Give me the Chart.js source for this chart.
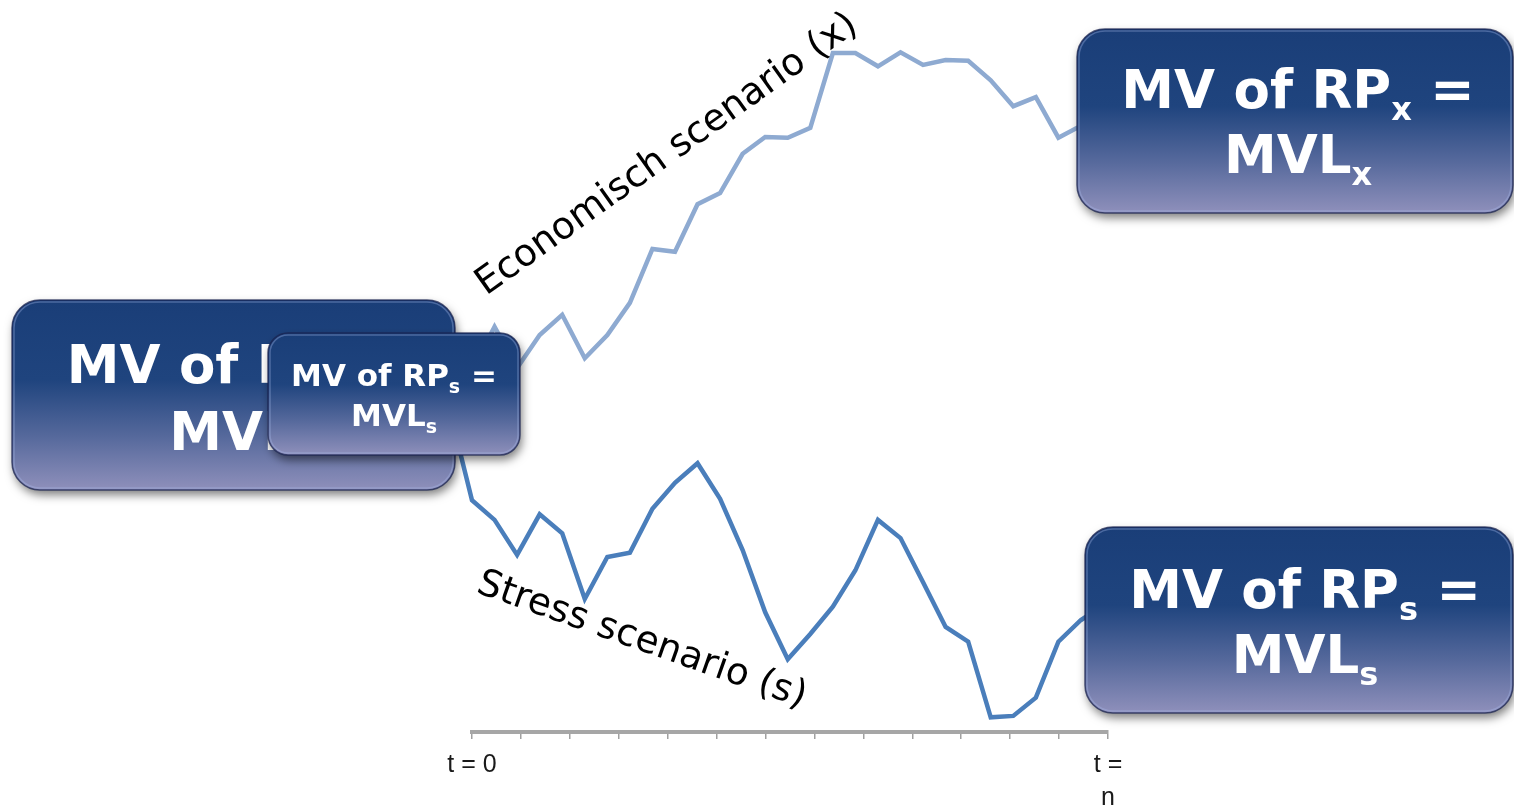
<!DOCTYPE html>
<html>
<head>
<meta charset="utf-8">
<script src="https://cdn.jsdelivr.net/npm/chart.js@4.4.1/dist/chart.umd.min.js"></script>
<style>
    html, body { margin: 0; padding: 0; background: #ffffff; }
    canvas { display: block; }
</style>
</head>
<body>
<canvas id="scenarioChart" width="1514" height="807"></canvas>
<script>
// tijdstappen; stap -1 is het gezamenlijke startpunt (achter het linker blok)
const steps = [-1, 0, 1, 2, 3, 4, 5, 6, 7, 8, 9, 10, 11, 12, 13, 14, 15, 16, 17, 18, 19, 20, 21, 22, 23, 24, 25, 26, 27, 28];

// economisch scenario (x)
const economisch = [46.1, 51.7, 57.9, 52.0, 56.7, 59.6, 53.4, 56.7, 61.3, 69.0, 68.6, 75.4, 77.0, 82.6, 85.0,
    84.9, 86.3, 97.0, 97.0, 95.1, 97.1, 95.3, 96.0, 95.9, 93.1, 89.4, 90.7, 84.9, 86.6, 87.7];

// stress scenario (s)
const stress = [46.1, 33.1, 30.3, 25.3, 31.1, 28.4, 19.0, 25.0, 25.6, 31.9, 35.6, 38.4, 33.3, 26.0, 17.1,
    10.4, 14.0, 17.9, 23.1, 30.3, 27.7, 21.4, 15.0, 12.9, 2.1, 2.3, 4.9, 12.9, 16.0, 18.1];

// labels onder de tijdas (alleen begin en eind)
const tickLabels = ['t = 0', '', '', '', '', '', '', '', '', '', '', '', '', ['t =', 'n']];
const xMax = 28.2;

// tekstblokken: [tekst, subscript?]
const blokken = [
    { x: 12, y: 300, w: 443, h: 190, r: 28, size: 53, cx: 233, base: [383, 450],
      lines: [[['MV of RP =', false]], [['MVL', false]]] },
    { x: 268, y: 333, w: 252, h: 122, r: 20, size: 31, cx: 394, base: [386, 426],
      lines: [[['MV of RP', false], ['s', true], [' =', false]], [['MVL', false], ['s', true]]] },
    { x: 1077, y: 29, w: 436, h: 184, r: 28, size: 53, cx: 1298, base: [108, 173],
      lines: [[['MV of RP', false], ['x', true], [' =', false]], [['MVL', false], ['x', true]]] },
    { x: 1085, y: 527, w: 428, h: 186, r: 28, size: 53, cx: 1305, base: [608, 673],
      lines: [[['MV of RP', false], ['s', true], [' =', false]], [['MVL', false], ['s', true]]] }
];

function roundRect(ctx, x, y, w, h, r) {
    ctx.beginPath();
    ctx.moveTo(x + r, y);
    ctx.arcTo(x + w, y, x + w, y + h, r);
    ctx.arcTo(x + w, y + h, x, y + h, r);
    ctx.arcTo(x, y + h, x, y, r);
    ctx.arcTo(x, y, x + w, y, r);
    ctx.closePath();
}

function tekenBlok(ctx, b) {
    ctx.save();
    roundRect(ctx, b.x, b.y, b.w, b.h, b.r);
    const g = ctx.createLinearGradient(0, b.y, 0, b.y + b.h);
    g.addColorStop(0, '#1a3e78');
    g.addColorStop(0.42, '#1f447e');
    g.addColorStop(0.72, '#56699c');
    g.addColorStop(1, '#8f90bb');
    ctx.shadowColor = 'rgba(0, 0, 0, 0.5)';
    ctx.shadowBlur = 10;
    ctx.shadowOffsetX = 2;
    ctx.shadowOffsetY = 5;
    ctx.fillStyle = g;
    ctx.fill();
    ctx.shadowColor = 'transparent';
    ctx.lineWidth = 1.5;
    ctx.strokeStyle = 'rgba(25, 35, 80, 0.75)';
    ctx.stroke();
    // lichte binnenrand
    roundRect(ctx, b.x + 2, b.y + 2, b.w - 4, b.h - 4, b.r - 2);
    ctx.lineWidth = 1.5;
    ctx.strokeStyle = 'rgba(170, 185, 235, 0.35)';
    ctx.stroke();

    // witte tekst met subscript
    const hoofd = 'bold ' + b.size + 'px "DejaVu Sans", Verdana, sans-serif';
    const sub = 'bold ' + Math.round(b.size * 0.6) + 'px "DejaVu Sans", Verdana, sans-serif';
    ctx.fillStyle = '#ffffff';
    ctx.textBaseline = 'alphabetic';
    ctx.textAlign = 'left';
    b.lines.forEach((regel, i) => {
        let breedte = 0;
        regel.forEach(([t, isSub]) => {
            ctx.font = isSub ? sub : hoofd;
            breedte += ctx.measureText(t).width;
        });
        let x = b.cx - breedte / 2;
        regel.forEach(([t, isSub]) => {
            ctx.font = isSub ? sub : hoofd;
            ctx.fillText(t, x, b.base[i] + (isSub ? b.size * 0.23 : 0));
            x += ctx.measureText(t).width;
        });
    });
    ctx.restore();
}

function schuineTekst(ctx, tekst, x, y, hoek) {
    ctx.save();
    ctx.translate(x, y);
    ctx.rotate(hoek * Math.PI / 180);
    ctx.font = '37.5px "DejaVu Sans", Verdana, sans-serif';
    ctx.fillStyle = '#000000';
    ctx.textBaseline = 'alphabetic';
    ctx.textAlign = 'left';
    ctx.fillText(tekst, 0, 0);
    ctx.restore();
}

const blokkenPlugin = {
    id: 'blokken',
    afterDatasetsDraw(chart) {
        const ctx = chart.ctx;
        blokken.forEach(b => tekenBlok(ctx, b));
        schuineTekst(ctx, 'Economisch scenario (x)', 486, 296, -35.5);
        schuineTekst(ctx, 'Stress scenario (s)', 475, 592, 19.5);
    }
};

const scenarioChart = new Chart(document.getElementById('scenarioChart'), {
    type: 'line',
    data: {
        datasets: [{
            label: 'Economisch scenario (x)',
            data: steps.map((t, i) => ({ x: t, y: economisch[i] })),
            borderColor: '#8eaad1',
            borderWidth: 4.5,
            pointRadius: 0,
            tension: 0,
            clip: false
        }, {
            label: 'Stress scenario (s)',
            data: steps.map((t, i) => ({ x: t, y: stress[i] })),
            borderColor: '#4a7ebb',
            borderWidth: 4.5,
            pointRadius: 0,
            tension: 0,
            clip: false
        }]
    },
    options: {
        responsive: false,
        animation: false,
        layout: { padding: { left: 472, right: 406, top: 32, bottom: 0 } },
        plugins: {
            legend: { display: false },
            tooltip: { enabled: false }
        },
        scales: {
            x: {
                type: 'linear',
                min: 0,
                max: xMax,
                afterBuildTicks: scale => {
                    scale.ticks = tickLabels.map((_, i) => ({ value: i * xMax / (tickLabels.length - 1) }));
                },
                afterFit: scale => { scale.height = 75; },
                ticks: {
                    autoSkip: false,
                    maxRotation: 0,
                    padding: 10,
                    color: '#1a1a1a',
                    font: { family: '"Liberation Sans", Arial, sans-serif', size: 25, lineHeight: 1.32 },
                    callback: (value, index) => tickLabels[index]
                },
                grid: { drawOnChartArea: false, tickLength: 7, color: '#a0a0a0', lineWidth: 1.5 },
                border: { color: '#a6a6a6', width: 4 }
            },
            y: { display: false, min: 0, max: 100 }
        }
    },
    plugins: [blokkenPlugin]
});
</script>
</body>
</html>
